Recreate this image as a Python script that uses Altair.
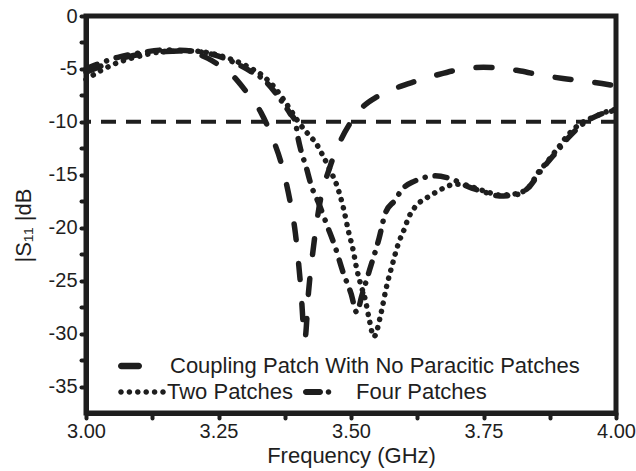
import altair as alt
import pandas as pd

# ---------------- data ----------------
coupling_freq = [3.00, 3.03, 3.06, 3.10, 3.15, 3.18, 3.21, 3.23, 3.25, 3.27, 3.30, 3.33,
                 3.35, 3.37, 3.385, 3.395, 3.405, 3.413, 3.42, 3.43, 3.44, 3.46, 3.48,
                 3.50, 3.52, 3.55, 3.58, 3.62, 3.66, 3.70, 3.75, 3.78, 3.82, 3.86, 3.90,
                 3.95, 4.00]
coupling_s11 = [-5.3, -4.7, -4.1, -3.65, -3.35, -3.3, -3.6, -4.0, -4.6, -5.3, -7.0, -9.1,
                -11.3, -14.2, -17.5, -20.5, -25.5, -30.5, -26.0, -21.5, -18.0, -14.3, -11.8,
                -10.0, -8.7, -7.6, -6.9, -6.2, -5.6, -5.1, -4.85, -4.9, -5.2, -5.6, -5.9,
                -6.2, -6.6]

two_freq = [3.00, 3.03, 3.06, 3.10, 3.15, 3.20, 3.25, 3.28, 3.31, 3.335, 3.355, 3.37,
            3.385, 3.398, 3.413, 3.422, 3.435, 3.445, 3.46, 3.474, 3.485, 3.496, 3.504,
            3.51, 3.518, 3.527, 3.535, 3.543, 3.557, 3.566, 3.579, 3.59, 3.60, 3.609,
            3.62, 3.645, 3.662, 3.677, 3.695, 3.71, 3.725, 3.75, 3.78, 3.81, 3.835,
            3.853, 3.868, 3.89, 3.91, 3.935, 3.96, 3.985, 4.00]
two_s11 = [-6.0, -5.1, -4.4, -3.8, -3.35, -3.3, -3.7, -4.2, -4.9, -5.7, -6.7, -7.7,
           -8.8, -9.8, -10.8, -11.3, -12.1, -13.0, -14.5, -16.1, -18.0, -20.5, -22.1,
           -23.7, -25.3, -26.8, -28.8, -30.3, -28.0, -25.8, -23.3, -21.4, -20.2, -19.0,
           -18.1, -17.1, -16.6, -16.2, -15.9, -15.9, -16.1, -16.5, -16.9, -16.8, -16.2,
           -14.8, -13.9, -12.5, -11.2, -10.1, -9.5, -9.0, -8.8]

four_freq = [3.00, 3.03, 3.06, 3.10, 3.15, 3.20, 3.25, 3.28, 3.31, 3.335, 3.355, 3.37,
             3.385, 3.395, 3.40, 3.405, 3.415, 3.425, 3.44, 3.455, 3.47, 3.485, 3.50,
             3.511, 3.52, 3.535, 3.553, 3.565, 3.583, 3.596, 3.62, 3.643, 3.658, 3.69,
             3.72, 3.75, 3.78, 3.81, 3.835, 3.86, 3.885, 3.91, 3.94, 3.97, 4.00]
four_s11 = [-5.0, -4.4, -3.9, -3.5, -3.2, -3.3, -3.8, -4.4, -5.2, -6.0, -7.1, -8.1,
            -9.2, -10.0, -11.5, -12.6, -14.2, -16.0, -17.8, -19.8, -21.8, -24.2, -26.2,
            -28.0, -26.5, -24.0, -21.0, -18.6, -17.4, -16.4, -15.6, -15.2, -15.1, -15.4,
            -16.1, -16.6, -17.0, -16.9, -16.2, -14.5, -13.0, -11.5, -10.1, -9.3, -8.9]

ref_level = [-10]

series_names = ["Coupling Patch With No Paracitic Patches", "Two Patches", "Four Patches"]

x_tick_values = [3.0, 3.125, 3.25, 3.375, 3.5, 3.625, 3.75, 3.875, 4.0]
y_tick_values = [0, -2.5, -5, -7.5, -10, -12.5, -15, -17.5, -20, -22.5, -25, -27.5,
                 -30, -32.5, -35]

# ---------------- styling ----------------
INK = "#1e1e1e"
FONT = "Liberation Sans"
LINE_W = 5.5
DASH_COUPLING = [16, 24]
DASH_TWO = [0.1, 8.3]
DASH_FOUR = [12, 10, 0.1, 10]

# legend glyphs: custom symbol paths (unit = SYM_R px, symbol box 2*SYM_R)
SYM_R = 25.0
SYM_SIZE = (2 * SYM_R) ** 2
K = 0.5523


def _p(v):
    return f"{v / SYM_R:.4f}"


def circle_path(cx, r):
    k = K * r
    return (f"M{_p(cx + r)},0 "
            f"C{_p(cx + r)},{_p(k)} {_p(cx + k)},{_p(r)} {_p(cx)},{_p(r)} "
            f"C{_p(cx - k)},{_p(r)} {_p(cx - r)},{_p(k)} {_p(cx - r)},0 "
            f"C{_p(cx - r)},{_p(-k)} {_p(cx - k)},{_p(-r)} {_p(cx)},{_p(-r)} "
            f"C{_p(cx + k)},{_p(-r)} {_p(cx + r)},{_p(-k)} {_p(cx + r)},0 Z ")


def stadium_path(x0, x1, hh):
    k = K * hh
    return (f"M{_p(x0 + hh)},{_p(-hh)} L{_p(x1 - hh)},{_p(-hh)} "
            f"C{_p(x1 - hh + k)},{_p(-hh)} {_p(x1)},{_p(-k)} {_p(x1)},0 "
            f"C{_p(x1)},{_p(k)} {_p(x1 - hh + k)},{_p(hh)} {_p(x1 - hh)},{_p(hh)} "
            f"L{_p(x0 + hh)},{_p(hh)} "
            f"C{_p(x0 + hh - k)},{_p(hh)} {_p(x0)},{_p(k)} {_p(x0)},0 "
            f"C{_p(x0)},{_p(-k)} {_p(x0 + hh - k)},{_p(-hh)} {_p(x0 + hh)},{_p(-hh)} Z ")


glyph_coupling = stadium_path(-12, 12, 3.3)
glyph_two = "".join(circle_path(c, 2.8) for c in [-21, -12.6, -4.2, 4.2, 12.6, 21])
glyph_four = stadium_path(-14, 6, 3.0) + circle_path(11.5, 2.8)

x_scale = alt.Scale(domain=[3.0, 4.0], nice=False, zero=False)
y_scale = alt.Scale(domain=[-37.5, 0], nice=False, zero=False)

x_axis = alt.Axis(
    title="Frequency (GHz)", values=x_tick_values,
    labelExpr="round(datum.value * 8) % 2 == 0 ? format(datum.value, '.2f') : ''",
    labelBaseline="alphabetic", labelPadding=19,
    titleY=49, titleBaseline="alphabetic",
)
y_axis = alt.Axis(
    title="|S\u2081\u2081 |dB", values=y_tick_values,
    labelExpr="datum.value % 5 == 0 ? '' + datum.value : ''",
    labelPadding=4,
    titleX=-56, titleY=209, titleAlign="center", titleBaseline="alphabetic", titleAngle=270,
)


def frame(freq, s11, name):
    return pd.DataFrame({"f": freq, "s": s11, "series": [name] * len(freq)})


def curve(df, dash):
    return alt.Chart(df).mark_line(
        color=INK, strokeWidth=LINE_W, strokeCap="round", interpolate="monotone",
        strokeDash=dash,
    ).encode(
        x=alt.X("f:Q", scale=x_scale, axis=x_axis),
        y=alt.Y("s:Q", scale=y_scale, axis=y_axis),
    )


def legend_key(df, name, glyph, lx, ly, offset):
    lg = alt.Legend(
        title=None, orient="none", legendX=lx, legendY=ly, symbolSize=SYM_SIZE,
        symbolStrokeWidth=0, symbolFillColor=INK, symbolOpacity=1,
        labelOffset=offset, labelFont=FONT, labelFontSize=22, labelColor=INK,
        labelLimit=800, padding=0, direction="vertical",
    )
    return alt.Chart(df.head(1)).mark_point(
        filled=True, color=INK, opacity=0
    ).encode(
        x=alt.X("f:Q", scale=x_scale, axis=x_axis),
        y=alt.Y("s:Q", scale=y_scale, axis=y_axis),
        shape=alt.Shape("series:N", scale=alt.Scale(domain=[name], range=[glyph]),
                        legend=lg),
    )


df_c = frame(coupling_freq, coupling_s11, series_names[0])
df_t = frame(two_freq, two_s11, series_names[1])
df_f = frame(four_freq, four_s11, series_names[2])

ref_rule = alt.Chart(pd.DataFrame({"level": ref_level})).mark_rule(
    color=INK, strokeWidth=4, strokeDash=[15, 10]
).encode(y=alt.Y("level:Q", scale=y_scale, axis=y_axis))

layers = [
    ref_rule,
    curve(df_c, DASH_COUPLING),
    curve(df_t, DASH_TWO),
    curve(df_f, DASH_FOUR),
    legend_key(df_c, series_names[0], glyph_coupling, 19, 325, 15),
    legend_key(df_t, series_names[1], glyph_two, 31, 351, 0),
    legend_key(df_f, series_names[2], glyph_four, 206, 351, 14),
]

chart = alt.layer(*layers).resolve_scale(
    shape="independent"
).properties(
    width=530, height=397,
    autosize=alt.AutoSizeParams(type="none"),
    padding={"left": 86, "top": 16, "right": 20, "bottom": 58},
).configure_view(
    stroke=INK, strokeWidth=5
).configure_axis(
    domainColor=INK, domainWidth=5, tickColor=INK, tickWidth=4, tickSize=5,
    tickCap="round", labelFont=FONT, labelFontSize=20, labelColor=INK,
    titleFont=FONT, titleFontSize=22, titleColor=INK, titleFontWeight="normal",
    grid=False, labelFlush=False, labelOverlap=False, labelBound=False,
)

chart.save("out.html", embed_options={"renderer": "svg", "actions": False})
